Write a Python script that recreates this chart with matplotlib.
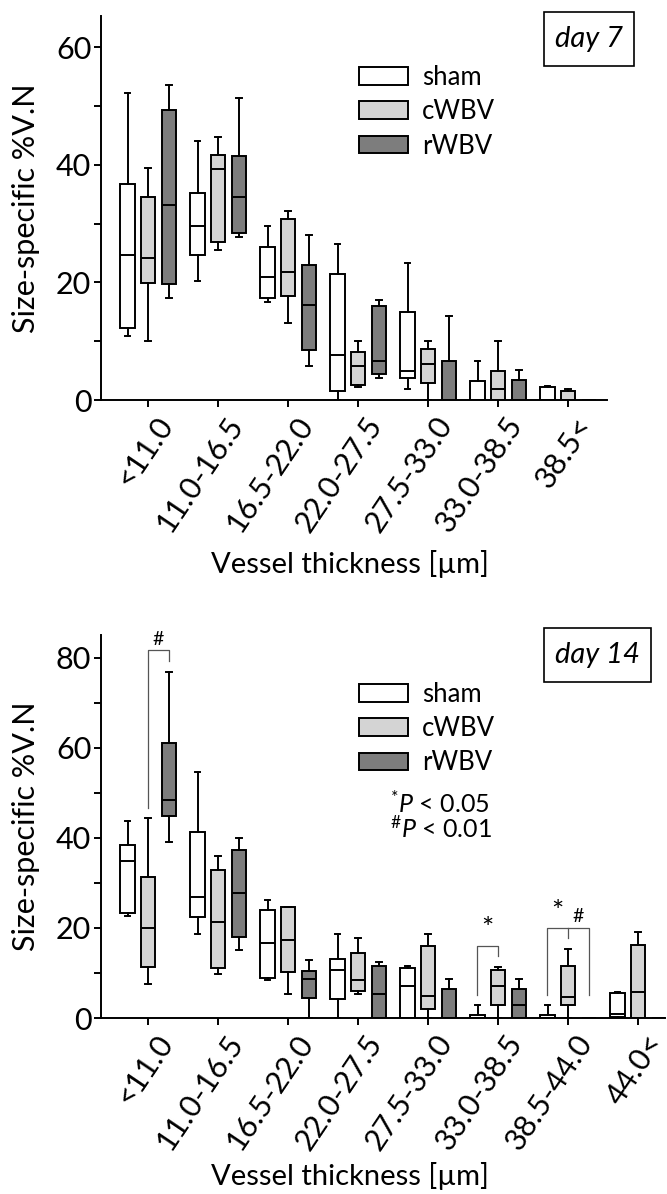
import matplotlib
matplotlib.use("Agg")
import matplotlib.pyplot as plt
from matplotlib.patches import Patch, Rectangle
from matplotlib.transforms import ScaledTranslation

plt.rcParams['font.family'] = ['Lato', 'DejaVu Sans']
plt.rcParams['mathtext.fontset'] = 'custom'
plt.rcParams['mathtext.rm'] = 'Lato'
plt.rcParams['mathtext.it'] = 'Lato:italic'

# ---------------- data (whislo, q1, median, q3, whishi) ----------------
groups = ['sham', 'cWBV', 'rWBV']
colors = ['#ffffff', '#d4d4d4', '#7d7d7d']

d7_categories = ['<11.0', '11.0-16.5', '16.5-22.0', '22.0-27.5', '27.5-33.0', '33.0-38.5', '38.5<']
d7_sham = [[10.9, 12.2, 24.6, 36.8, 52.2],
           [20.3, 24.7, 29.6, 35.2, 44.0],
           [16.6, 17.3, 20.9, 26.0, 29.6],
           [0.0, 1.6, 7.7, 21.4, 26.5],
           [1.9, 3.8, 4.9, 15.0, 23.3],
           [0.0, 0.0, 0.0, 3.3, 6.6],
           [0.0, 0.0, 0.0, 2.2, 2.4]]
d7_cwbv = [[10.1, 19.9, 24.1, 34.6, 39.4],
           [25.5, 26.8, 39.2, 41.6, 44.7],
           [13.1, 17.7, 21.7, 30.7, 32.2],
           [2.2, 2.5, 5.8, 8.1, 10.1],
           [0.0, 2.9, 6.1, 8.7, 10.1],
           [0.0, 0.0, 1.9, 4.9, 10.1],
           [0.0, 0.0, 0.0, 1.6, 1.9]]
d7_rwbv = [[17.4, 19.8, 33.2, 49.3, 53.5],
           [27.7, 28.4, 34.5, 41.5, 51.4],
           [5.7, 8.5, 16.1, 23.0, 28.1],
           [3.8, 4.5, 6.6, 16.0, 17.0],
           [0.0, 0.0, 0.0, 6.7, 14.2],
           [0.0, 0.0, 0.0, 3.4, 5.1],
           [0.0, 0.0, 0.0, 0.0, 0.0]]

d14_categories = ['<11.0', '11.0-16.5', '16.5-22.0', '22.0-27.5', '27.5-33.0', '33.0-38.5', '38.5-44.0', '44.0<']
d14_sham = [[22.7, 23.4, 34.8, 38.4, 43.7],
            [18.6, 22.4, 26.8, 41.2, 54.5],
            [8.4, 8.9, 16.7, 24.0, 26.2],
            [0.0, 4.3, 10.7, 13.2, 18.7],
            [0.0, 0.0, 7.0, 11.2, 11.5],
            [0.0, 0.0, 0.0, 0.6, 2.8],
            [0.0, 0.0, 0.0, 0.6, 2.8],
            [0.0, 0.3, 0.9, 5.5, 5.8]]
d14_cwbv = [[7.5, 11.3, 20.0, 31.3, 44.4],
            [9.7, 11.1, 21.3, 32.8, 36.0],
            [5.4, 10.1, 17.2, 24.7, 24.7],
            [5.4, 6.1, 8.4, 14.5, 17.8],
            [0.0, 2.1, 4.8, 16.0, 18.6],
            [0.0, 2.8, 7.0, 10.6, 11.3],
            [0.0, 2.9, 4.7, 11.5, 15.3],
            [0.0, 0.0, 5.8, 16.2, 19.1]]
d14_rwbv = [[39.0, 44.8, 48.4, 61.1, 76.8],
            [15.2, 17.9, 27.7, 37.3, 39.9],
            [0.0, 4.4, 8.7, 10.4, 12.9],
            [0.0, 0.0, 5.3, 11.6, 12.4],
            [0.0, 0.0, 0.0, 6.5, 8.6],
            [0.0, 0.0, 2.9, 6.5, 8.6],
            [0.0, 0.0, 0.0, 0.0, 0.0],
            [0.0, 0.0, 0.0, 0.0, 0.0]]

# significance brackets: (x-left, x-right, y-left-foot, y-right-foot, y-top, symbol, x-symbol)
d14_brackets = [(-0.0, 0.3, 46.7, 79.3, 81.6, '#', 0.15),
                (4.7, 5.0, 5.0, 13.8, 16.0, '*', 4.85)]

FIG_W, FIG_H = 667, 1194
fig = plt.figure(figsize=(FIG_W / 100, FIG_H / 100), dpi=100)


def px_rect(x0, y0, x1, y1):
    return [x0 / FIG_W, 1 - y1 / FIG_H, (x1 - x0) / FIG_W, (y1 - y0) / FIG_H]


ax1 = fig.add_axes(px_rect(101, 16, 607, 400))
ax2 = fig.add_axes(px_rect(101, 635, 665, 1018))

offsets = [-0.29, 0.0, 0.30]
LW = 1.4


def draw_panel(ax, cats, series, ylim, yticks):
    for si, (data, col) in enumerate(zip(series, colors)):
        stats = []
        for vals in data:
            lo, q1, med, q3, hi = vals
            stats.append(dict(whislo=lo, q1=q1, med=med, q3=q3, whishi=hi, fliers=[]))
        pos = [i + offsets[si] for i in range(len(cats))]
        ax.bxp(stats, positions=pos, widths=0.21, patch_artist=True, showfliers=False,
               capwidths=0.08, manage_ticks=False,
               boxprops=dict(facecolor=col, edgecolor='black', linewidth=LW),
               medianprops=dict(color='black', linewidth=LW),
               whiskerprops=dict(color='black', linewidth=LW),
               capprops=dict(color='black', linewidth=LW))
    ax.set_xlim(-0.67, ax.get_position().width * FIG_W / 70 - 0.67)
    ax.set_ylim(*ylim)
    ax.spines['top'].set_visible(False)
    ax.spines['right'].set_visible(False)
    for s in ['left', 'bottom']:
        ax.spines[s].set_linewidth(LW)
    ax.set_yticks(yticks[::2])
    ax.set_yticks(yticks[1::2], minor=True)
    ax.tick_params(axis='both', which='both', direction='out', length=5, width=LW,
                   labelsize=22, colors='black')
    ax.tick_params(axis='y', pad=2)
    ax.set_xticks(range(len(cats)))
    ax.set_xticklabels(cats, rotation=56, ha='right', va='top', rotation_mode='anchor')
    for lbl in ax.get_xticklabels():
        lbl.set_transform(lbl.get_transform() + ScaledTranslation(5 / 72, 0 / 72, fig.dpi_scale_trans))
    ax.set_ylabel('Size-specific %V.N', fontsize=22)
    ax.set_xlabel('Vessel thickness [µm]', fontsize=21)
    handles = [Patch(facecolor=c, edgecolor='black', linewidth=LW, label=g)
               for g, c in zip(groups, colors)]
    return handles


h = draw_panel(ax1, d7_categories, [d7_sham, d7_cwbv, d7_rwbv], (0, 65.3),
               [0, 10, 20, 30, 40, 50, 60])
draw_panel(ax2, d14_categories, [d14_sham, d14_cwbv, d14_rwbv], (0, 85),
           [0, 10, 20, 30, 40, 50, 60, 70, 80])

ax1.yaxis.set_label_coords((40 - 101) / 506, 0.5)
ax2.yaxis.set_label_coords((40 - 101) / 564, 0.5)
ax1.xaxis.set_label_coords((350 - 101) / 506, -(564 - 400) / 384)
ax2.xaxis.set_label_coords((350 - 101) / 564, -(1176 - 1018) / 383)
ax1.xaxis.label.set_va('center')
ax2.xaxis.label.set_va('center')

for ax, top in [(ax1, 65), (ax2, 682)]:
    ax.legend(handles=h, loc='upper left', frameon=False, fontsize=18.5,
              bbox_to_anchor=(359 / FIG_W, 1 - top / FIG_H), bbox_transform=fig.transFigure,
              borderpad=0, borderaxespad=0, handlelength=1.9, handleheight=0.68,
              handletextpad=0.55, labelspacing=0.36)

# panel labels
for (x0, y0, x1, y1, txt) in [(544, 12, 634, 66, 'day 7'), (544, 628, 651, 682, 'day 14')]:
    fig.patches.append(Rectangle((x0 / FIG_W, 1 - y1 / FIG_H), (x1 - x0) / FIG_W, (y1 - y0) / FIG_H,
                                 transform=fig.transFigure, facecolor='white',
                                 edgecolor='black', linewidth=1.2))
    fig.text((x0 + x1) / 2 / FIG_W, 1 - (y0 + y1) / 2 / FIG_H, txt, style='italic',
             fontsize=21, ha='center', va='center')

# significance
sig_kw = dict(color='#555555', linewidth=0.9)
for (xl, xr, yl, yr, yt, sym, xs) in d14_brackets:
    ax2.plot([xl, xl, xr, xr], [yl, yt, yt, yr], **sig_kw)
    ax2.text(xs, yt + 0.6, sym, ha='center', va='bottom', fontsize=21 if sym == '*' else 14)
# three-leg bracket over 38.5-44.0
ax2.plot([5.7, 5.7, 6.3, 6.3], [5.0, 20.0, 20.0, 5.0], **sig_kw)
ax2.plot([6.0, 6.0], [20.0, 17.7], **sig_kw)
ax2.text(5.85, 20.4, '*', ha='center', va='bottom', fontsize=21)
ax2.text(6.15, 20.6, '#', ha='center', va='bottom', fontsize=14)

fig.text(390 / FIG_W, 1 - 804 / FIG_H, r'$^{*}\mathit{P}$ < 0.05', fontsize=18, ha='left', va='center')
fig.text(390 / FIG_W, 1 - 828 / FIG_H, r'$^{\#}\mathit{P}$ < 0.01', fontsize=18, ha='left', va='center')

fig.savefig('out.png', dpi=100)
